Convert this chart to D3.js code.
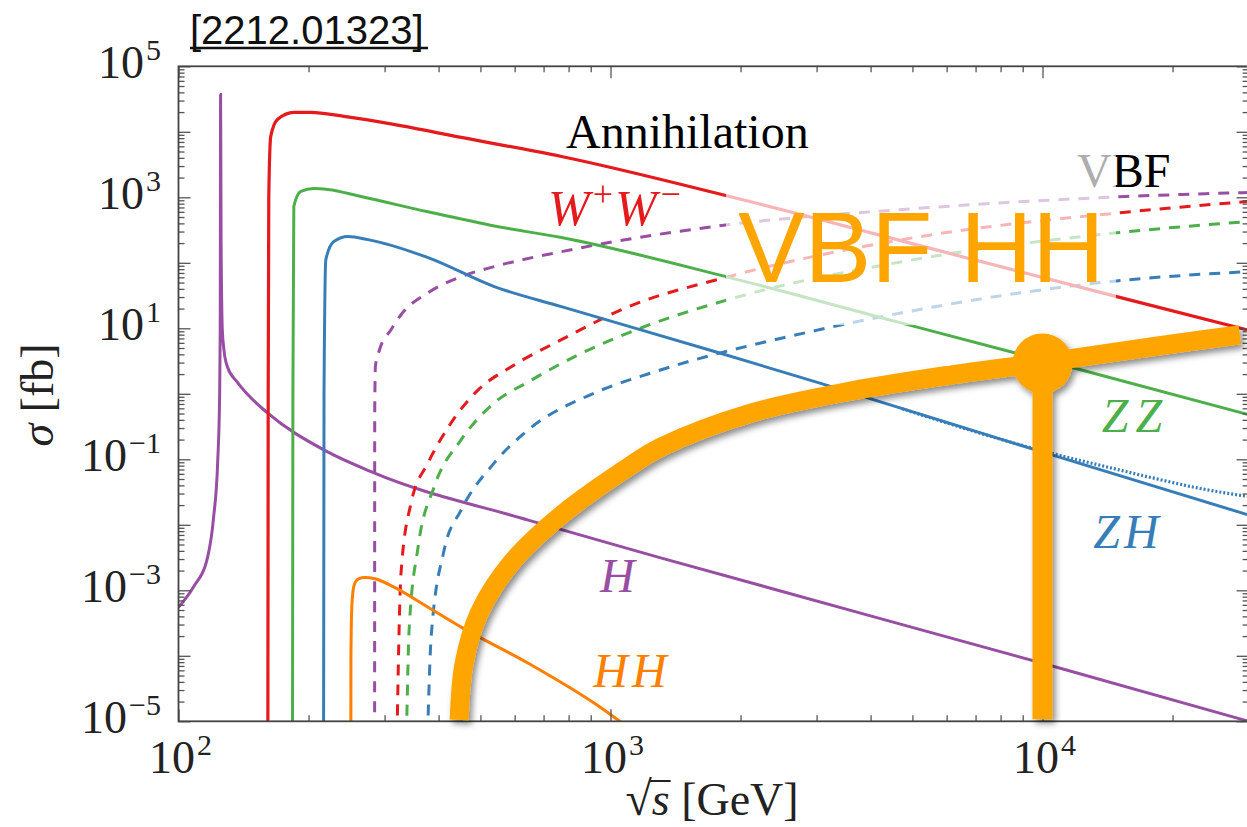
<!DOCTYPE html>
<html>
<head>
<meta charset="utf-8">
<script src="https://cdn.jsdelivr.net/npm/d3@7"></script>
<style>
  body { margin: 0; background: #fff; }
  svg { display: block; }
  .serif { font-family: "Liberation Serif", "Times New Roman", "DejaVu Serif", serif; }
  .sans { font-family: "Liberation Sans", Arial, "DejaVu Sans", sans-serif; }
</style>
</head>
<body>
<svg></svg>
<script>
// cross sections: [sqrt(s) in GeV, sigma in fb]
// annihilation channels (solid)
let hAnn = [[100, 5.5e-4], [108.3, 1.12e-3], [116.8, 3.22e-3], [120.6, 0.0132], [123.2, 0.0881],
            [124.5, 0.90], [124.9, 9.5], [125.15, 3.7e4], [125.5, 200], [126.3, 9.5], [127.4, 4.71],
            [129.7, 2.61], [136.8, 1.51], [144.3, 0.99], [160.7, 0.51], [217, 0.139], [283.5, 0.062],
            [645, 0.0118], [1313, 3.1e-3], [10000, 7.7e-5], [30000, 1e-5]];
let wwAnn = [[160.9, 1e-7], [161.3, 1], [161.8, 1000], [163.5, 8500], [169.7, 15500], [185, 19800],
             [202.5, 19800], [241.5, 17200], [315, 13000], [451, 8200], [770, 4200], [1888, 1030],
             [6520, 124], [15170, 29.4], [30000, 9.3]];
let zzAnn = [[183.5, 1e-7], [184.0, 1], [184.9, 723], [191.9, 1227], [205.7, 1364], [221.7, 1316],
             [264.4, 1028], [378.2, 600], [538.2, 365], [769.7, 243], [1888, 59.4], [4659, 12.3],
             [8656, 4.2], [12190, 2.35], [30000, 0.48]];
let zhAnn = [[216.5, 1e-7], [217.2, 1], [219.3, 112], [228.9, 211], [246.7, 252], [274.5, 226],
             [378.2, 120], [538.2, 43.3], [769.7, 21.4], [1781, 4.24], [3039, 1.47], [9637, 0.139],
             [30000, 0.0141]];
let zhAlt = [[4735, 0.59], [10000, 0.134], [13780, 0.0793], [17990, 0.052], [23500, 0.0352], [30000, 0.027]];
let hhAnn = [[250.4, 1e-7], [250.7, 1e-4], [252.0, 6e-4], [255, 1.2e-3], [261, 1.5e-3], [270, 1.57e-3],
             [285, 1.5e-3], [315.4, 1.12e-3], [378.2, 5.5e-4], [451, 2.74e-4], [645.1, 7.7e-5],
             [918.2, 1.88e-5], [1100, 8e-6]];

// vector boson fusion channels (dashed)
let vbfH = [[284.4, 1e-7], [284.6, 0.5], [285.6, 2.6], [292, 4.71], [310.4, 9.5], [327.4, 16.1],
            [378.2, 35], [451, 61.5], [538.2, 87.5], [769.7, 148], [1888, 384], [4735, 651],
            [15590, 1028], [30000, 1184]];
let vbfWW = [[320, 3e-6], [321, 1e-5], [323.5, 1.5e-4], [327.4, 1.83e-3], [345.4, 0.0215], [378.2, 0.0881],
             [427.6, 0.36], [494, 1.15], [589.1, 2.59], [769.7, 6.7], [1101, 21.4], [1839, 59.4],
             [4735, 226], [16180, 607], [30000, 863]];
let vbfZZ = [[336, 3e-6], [337.5, 1e-5], [341.8, 2.46e-4], [358.6, 4.58e-3], [390.6, 0.0378], [451, 0.198],
             [538.2, 0.728], [645.1, 1.52], [843.2, 3.95], [1180, 10.2], [1909, 28.4], [4735, 104],
             [15090, 290], [30000, 427]];
let vbfZH = [[376, 3e-6], [378, 1e-5], [384.4, 1.92e-4], [412, 4.12e-3], [451, 0.0168], [538.2, 0.0881],
             [645.1, 0.282], [918.2, 1.03], [1245, 2.09], [3039, 9.5], [4735, 17.3], [15920, 55.3],
             [30000, 73.3]];

// the hand drawn VBF HH highlight and its marked point
let vbfHH = [[446.4, 1.05e-5], [458.4, 7.7e-5], [496.6, 4.48e-4], [589.1, 2.61e-3], [769.7, 0.0141],
             [1101, 0.0766], [1313, 0.155], [2124, 0.512], [3624, 1.11], [6183, 1.95], [10000, 2.98],
             [17990, 5.23], [28640, 7.98]];
let vbfHHPoint = [10000, 2.9];

// tick labels (exponents of ten)
let xTickExps = [2, 3, 4];
let yTickExps = [5, 3, 1, -1, -3, -5];

let svgWidth = 1247,
    svgHeight = 827;
let plotLeft = 178.5, plotRight = 1248.6, plotTop = 66.3, plotBottom = 721.3;

let red = '#e41a1c', green = '#4daf4a', blue = '#377eb8', purple = '#984ea3', orange = '#ff7f00';

let svg = d3.select('svg')
            .attr('width', svgWidth)
            .attr('height', svgHeight);

let x = d3.scaleLog().domain([100, 30000]).range([plotLeft, plotRight]);
let y = d3.scaleLog().domain([1e-5, 1e5]).range([plotBottom, plotTop]);

let defs = svg.append('defs');
defs.append('clipPath').attr('id', 'plot-clip')
    .append('rect')
    .attr('x', plotLeft).attr('y', plotTop)
    .attr('width', plotRight - plotLeft).attr('height', plotBottom - plotTop);
let shadow = defs.append('filter').attr('id', 'shadow')
                 .attr('x', '-10%').attr('y', '-10%').attr('width', '120%').attr('height', '120%');
shadow.append('feDropShadow')
      .attr('dx', 3).attr('dy', 4).attr('stdDeviation', 3)
      .attr('flood-color', '#000').attr('flood-opacity', 0.45);

// curves
let line = d3.line()
             .x(d => x(d[0]))
             .y(d => y(d[1]))
             .curve(d3.curveMonotoneX);

let curveStyles = [
  {data: hAnn, color: purple, dash: null, w: 3},
  {data: vbfH, color: purple, dash: '11,9', w: 3},
  {data: vbfWW, color: red, dash: '11,9', w: 3},
  {data: vbfZZ, color: green, dash: '11,9', w: 3},
  {data: vbfZH, color: blue, dash: '11,9', w: 3},
  {data: hhAnn, color: orange, dash: null, w: 3},
  {data: zhAlt, color: blue, dash: '2,2', w: 3.2},
  {data: zhAnn, color: blue, dash: null, w: 3},
  {data: zzAnn, color: green, dash: null, w: 3},
  {data: wwAnn, color: red, dash: null, w: 3.2}
];

svg.append('g')
   .attr('clip-path', 'url(#plot-clip)')
   .selectAll('path')
   .data(curveStyles)
   .join('path')
   .attr('d', d => line(d.data))
   .attr('fill', 'none')
   .attr('stroke', d => d.color)
   .attr('stroke-width', d => d.w)
   .attr('stroke-dasharray', d => d.dash);

// curve labels, placed in data coordinates
function label(parts, xv, yv, color, size, cls) {
  let t = svg.append('text')
             .attr('class', cls || 'serif')
             .attr('x', x(xv)).attr('y', y(yv))
             .attr('font-size', size || 48)
             .attr('fill', color);
  parts.forEach(p => {
    let s = t.append('tspan').text(p.t);
    if (p.i) s.attr('font-style', 'italic');
    if (p.dy) s.attr('dy', p.dy);
    if (p.fs) s.attr('font-size', p.fs);
    if (p.dx) s.attr('dx', p.dx);
  });
  return t;
}

label([{t: 'Annihilation'}], 789, 5660, '#000');
label([{t: 'VBF'}], 12020, 1436, '#000');
label([{t: 'W', i: true}, {t: '+', dy: -19, fs: 36, dx: 3}, {t: 'W', i: true, dy: 19, dx: 2},
       {t: '−', dy: -19, fs: 36, dx: 4}],
      716.6, 377.6, red, 50);
label([{t: 'Z', i: true}, {t: 'Z', i: true, dx: 7}], 13710, 0.2636, green);
label([{t: 'Z', i: true}, {t: 'H', i: true, dx: 4}], 13110, 4.38e-3, blue);
label([{t: 'H', i: true}], 945.6, 9.5e-4, purple);
label([{t: 'H', i: true}, {t: 'H', i: true, dx: 4}], 912, 3.37e-5, orange);

// translucent box that fades the curves behind the VBF HH text
svg.append('rect')
   .attr('x', x(1851)).attr('y', y(4920))
   .attr('width', x(14790) - x(1851))
   .attr('height', y(11.2) - y(4920))
   .attr('fill', '#fff')
   .attr('fill-opacity', 0.68);

// axes: inward ticks on all four sides
let xAll = x.ticks();
let isPow = v => Math.abs(Math.log10(v) - Math.round(Math.log10(v))) < 1e-9;
let xMajor = xAll.filter(isPow), xMinor = xAll.filter(v => !isPow(v));
let yMajor = [], yMinor = [];
for (let e = -5; e <= 5; e++) {
  yMajor.push(Math.pow(10, e));
  if (e < 5) for (let k = 2; k < 10; k++) yMinor.push(k * Math.pow(10, e));
}

function tickSet(gen, vals, size, tr) {
  svg.append('g')
     .attr('transform', tr)
     .call(gen.tickValues(vals).tickSize(size).tickFormat(''))
     .call(g => g.select('.domain').remove())
     .call(g => g.selectAll('line').attr('stroke', '#555').attr('stroke-width', 1.3));
}
tickSet(d3.axisTop(x), xMajor, 12, `translate(0,${plotBottom})`);
tickSet(d3.axisTop(x), xMinor, 6, `translate(0,${plotBottom})`);
tickSet(d3.axisBottom(x), xMajor, 12, `translate(0,${plotTop})`);
tickSet(d3.axisBottom(x), xMinor, 6, `translate(0,${plotTop})`);
tickSet(d3.axisRight(y), yMajor, 12, `translate(${plotLeft},0)`);
tickSet(d3.axisRight(y), yMinor, 6, `translate(${plotLeft},0)`);
tickSet(d3.axisLeft(y), yMajor, 12, `translate(${plotRight},0)`);
tickSet(d3.axisLeft(y), yMinor, 6, `translate(${plotRight},0)`);

svg.append('rect')
   .attr('x', plotLeft).attr('y', plotTop)
   .attr('width', plotRight - plotLeft).attr('height', plotBottom - plotTop)
   .attr('fill', 'none')
   .attr('stroke', '#444')
   .attr('stroke-width', 1.8);

// tick labels 10^n
function powLabel(sel, e) {
  sel.append('tspan').text('10');
  sel.append('tspan').attr('font-size', 30).attr('dy', -18).attr('dx', 2).text(e < 0 ? '−' + (-e) : e);
}
svg.selectAll('.ytick-label')
   .data(yTickExps)
   .join('text')
   .attr('class', 'serif')
   .attr('x', 161)
   .attr('y', d => y(Math.pow(10, d)) + 12)
   .attr('text-anchor', 'end')
   .attr('font-size', 46)
   .attr('fill', '#222')
   .each(function (d) { powLabel(d3.select(this), d); });

svg.selectAll('.xtick-label')
   .data(xTickExps)
   .join('text')
   .attr('class', 'serif')
   .attr('x', d => x(Math.pow(10, d)) + 2)
   .attr('y', 773)
   .attr('text-anchor', 'middle')
   .attr('font-size', 46)
   .attr('fill', '#222')
   .each(function (d) { powLabel(d3.select(this), d); });

// axis titles
let xTitle = svg.append('text')
                .attr('class', 'serif')
                .attr('x', 712).attr('y', 815)
                .attr('text-anchor', 'middle')
                .attr('font-size', 46)
                .attr('fill', '#222');
xTitle.append('tspan').attr('font-size', 48).text('√');
xTitle.append('tspan').attr('font-style', 'italic').text('s');
xTitle.append('tspan').text(' [GeV]');
let xn = xTitle.node();
let sStart = xn.getStartPositionOfChar(1).x, sEnd = xn.getEndPositionOfChar(1).x;
svg.append('line')
   .attr('x1', sStart - 2).attr('x2', sEnd + 1)
   .attr('y1', 781).attr('y2', 781)
   .attr('stroke', '#222').attr('stroke-width', 2);

let yTitle = svg.append('text')
                .attr('class', 'serif')
                .attr('transform', 'translate(53,395) rotate(-90)')
                .attr('text-anchor', 'middle')
                .attr('font-size', 46)
                .attr('fill', '#222');
yTitle.append('tspan').attr('font-style', 'italic').text('σ');
yTitle.append('tspan').text(' [fb]');

// arXiv reference, underlined
svg.append('text')
   .attr('class', 'sans')
   .attr('x', 190).attr('y', 44)
   .attr('font-size', 40)
   .attr('fill', '#111')
   .text('[2212.01323]');
svg.append('line')
   .attr('x1', 190).attr('x2', 428)
   .attr('y1', 48).attr('y2', 48)
   .attr('stroke', '#111').attr('stroke-width', 2.5);

// highlighted VBF HH curve with marker at 10 TeV
let thick = d3.line()
              .x(d => x(d[0]))
              .y(d => y(d[1]))
              .curve(d3.curveCatmullRom.alpha(0.5));
let hl = svg.append('g').attr('filter', 'url(#shadow)');
hl.append('path')
  .attr('d', thick(vbfHH))
  .attr('fill', 'none')
  .attr('stroke', '#ffa500')
  .attr('stroke-width', 19);
hl.append('line')
  .attr('x1', x(vbfHHPoint[0])).attr('x2', x(vbfHHPoint[0]))
  .attr('y1', y(vbfHHPoint[1])).attr('y2', y(1e-5) - 2)
  .attr('stroke', '#ffa500')
  .attr('stroke-width', 20);
hl.append('circle')
  .attr('cx', x(vbfHHPoint[0]))
  .attr('cy', y(vbfHHPoint[1]))
  .attr('r', 30)
  .attr('fill', '#ffa500');

label([{t: 'VBF HH'}], 1972, 50.9, '#ffa500', 100, 'sans');
</script>
</body>
</html>
